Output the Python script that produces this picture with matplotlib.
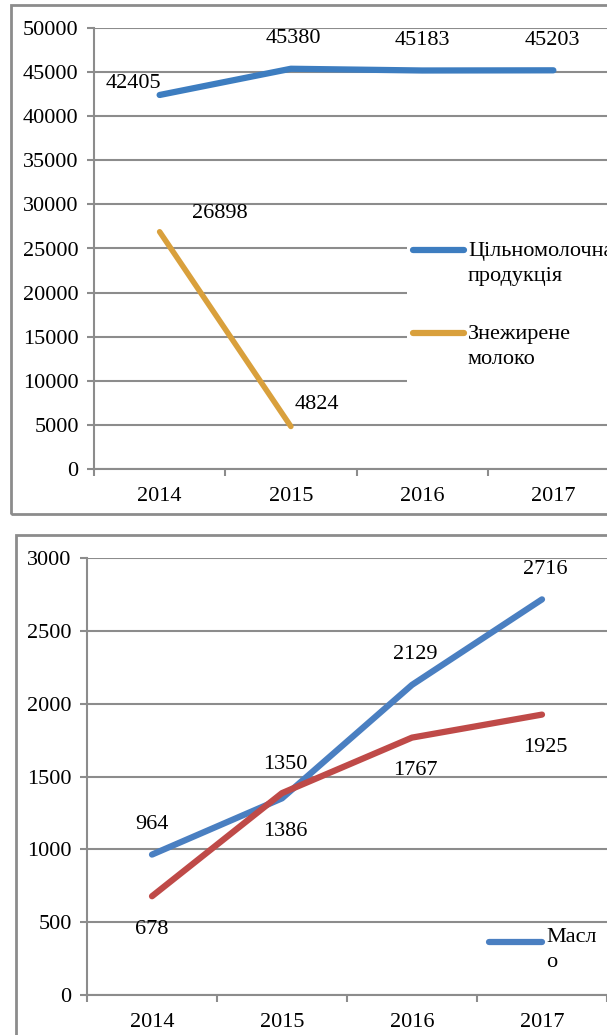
import matplotlib
matplotlib.use("Agg")
import matplotlib.pyplot as plt
from matplotlib.patches import Rectangle
from matplotlib.lines import Line2D

FS = 16
plt.rcParams.update({"font.family": ["Liberation Serif", "DejaVu Serif"],
                     "font.size": FS})

years = ["2014", "2015", "2016", "2017"]

# top chart
whole_milk = [42405, 45380, 45183, 45203]
skim_milk = [26898, 4824]
top_yticks = list(range(0, 50001, 5000))

# bottom chart
butter = [964, 1350, 2129, 2716]
other = [678, 1386, 1767, 1925]
bottom_yticks = list(range(0, 3001, 500))

W, H = 607, 1035
GRID = "#8c8c8c"
BLUE = "#3d7dc0"
ORANGE = "#d9a03c"
BLUE2 = "#4a7fc1"
RED = "#bf4a48"

fig = plt.figure(figsize=(W / 100, H / 100), dpi=100)


def fx(px):
    return px / W


def fy(py):
    return 1 - py / H


# frames round each chart
fig.patches.append(Rectangle((fx(11), fy(514)), fx(700), fy(5) - fy(514),
                             transform=fig.transFigure, fill=False,
                             edgecolor=GRID, linewidth=2))
fig.patches.append(Rectangle((fx(16), fy(1100)), fx(700), fy(535) - fy(1100),
                             transform=fig.transFigure, fill=False,
                             edgecolor=GRID, linewidth=2))


def style_axes(ax, yticks):
    ax.set_xlim(-0.5, 3.5)
    ax.set_ylim(yticks[0], yticks[-1])
    ax.set_yticks(yticks)
    ax.set_xticks(range(4))
    ax.set_xticklabels(years)
    ax.set_xticks([-0.5, 0.5, 1.5, 2.5, 3.5], minor=True)
    ax.tick_params(axis="x", which="major", length=0, pad=13)
    ax.tick_params(axis="x", which="minor", length=5, color=GRID, width=1.5)
    ax.tick_params(axis="y", length=5, color=GRID, width=1.5, pad=6)
    ax.grid(axis="y", color=GRID, linewidth=1.5)
    ax.set_axisbelow(True)
    for s in ["top", "right"]:
        ax.spines[s].set_visible(False)
    for s in ["left", "bottom"]:
        ax.spines[s].set_color(GRID)
        ax.spines[s].set_linewidth(1.5)


def label(ax, x, y, text, dx, dy):
    ax.annotate(text, (x, y), xytext=(dx, dy), textcoords="offset pixels",
                ha="center", va="center", fontsize=FS)


# ---- top chart
ax1 = fig.add_axes([fx(94), fy(469), fx(619) - fx(94), fy(28) - fy(469)])
style_axes(ax1, top_yticks)
ax1.plot(range(4), whole_milk, color=BLUE, linewidth=4.5,
         solid_capstyle="round")
ax1.plot(range(2), skim_milk, color=ORANGE, linewidth=4,
         solid_capstyle="round")
top_offsets = [(-26, 11), (2, 30), (0, 30), (-1, 30)]
for i, (v, (dx, dy)) in enumerate(zip(whole_milk, top_offsets)):
    label(ax1, i, v, str(v), dx, dy)
for i, (v, (dx, dy)) in enumerate(zip(skim_milk, [(60, 18), (26, 22)])):
    label(ax1, i, v, str(v), dx, dy)

# legend panel over the grid
fig.patches.append(Rectangle((fx(407), fy(412)), fx(300), fy(216) - fy(412),
                             transform=fig.transFigure, facecolor="white",
                             edgecolor="none", zorder=2))
for (py, col, txt) in [(250, BLUE, "Цільномолочна\nпродукція"),
                       (333, ORANGE, "Знежирене\nмолоко")]:
    fig.add_artist(Line2D([fx(413), fx(464)], [fy(py), fy(py)], color=col,
                          linewidth=4.5, solid_capstyle="round",
                          transform=fig.transFigure, zorder=3))
    fig.text(fx(468), fy(py - 8), txt, ha="left", va="top", fontsize=FS,
             linespacing=1.4, zorder=3)

# ---- bottom chart
ax2 = fig.add_axes([fx(87), fy(995), fx(607) - fx(87), fy(558) - fy(995)])
style_axes(ax2, bottom_yticks)
ax2.plot(range(4), butter, color=BLUE2, linewidth=4.5, solid_capstyle="round")
ax2.plot(range(4), other, color=RED, linewidth=4.5, solid_capstyle="round")
for i, v in enumerate(butter):
    dy = 34 if i == 1 else 30
    label(ax2, i, v, str(v), 3 if i else 0, dy)
for i, v in enumerate(other):
    label(ax2, i, v, str(v), 3 if i else 0, -33 - (5 if i == 1 else 0))

fig.add_artist(Line2D([fx(489), fx(542)], [fy(942), fy(942)], color=BLUE2,
                      linewidth=4.5, solid_capstyle="round",
                      transform=fig.transFigure))
fig.text(fx(546), fy(928), "Масл\nо", ha="left", va="top", fontsize=FS,
         linespacing=1.45)

fig.savefig("out.png", dpi=100)
